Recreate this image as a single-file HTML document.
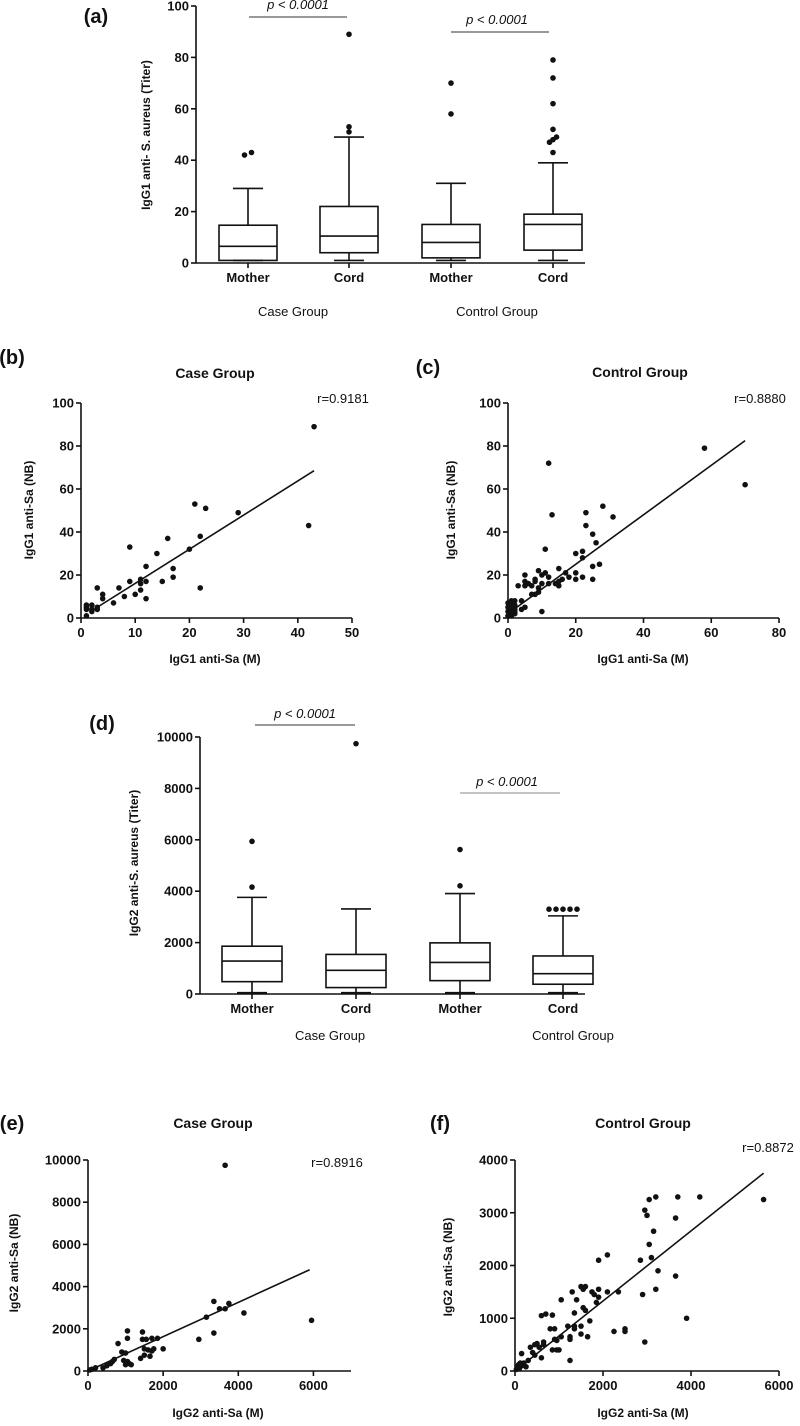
<!DOCTYPE html>
<html><head><meta charset="utf-8"><style>
html,body{margin:0;padding:0;background:#fff}
svg text{font-family:"Liberation Sans",Arial,sans-serif;fill:#111}
.t{font-weight:bold;font-size:13px}
.l{font-weight:bold;font-size:12px}
.p{font-size:20px;font-weight:bold}
.h{font-weight:bold;font-size:14px}
.n{font-weight:normal}
.i{font-style:italic;font-weight:normal;font-size:13px}
</style></head><body>
<svg id="fig" width="800" height="1421" viewBox="0 0 800 1421" xmlns="http://www.w3.org/2000/svg"></svg>
<script>
// ---- Data ----
const boxCats = ["Mother","Cord","Mother","Cord"];
// panel a: [min,q1,median,q3,max]
const aStats = [[1,1,6.5,14.7,29],[1,4,10.5,22,49],[1,2,8,15,31],[1,5,15,19,39]];
const aOutliers = [[42,43],[51,53,89],[58,70],[43,47,48,49,52,62,72,79]];
const aTicks = [0,20,40,60,80,100];
const dStats = [[50,480,1280,1860,3760],[50,250,920,1540,3310],[50,520,1230,1990,3910],[50,380,790,1480,3040]];
const dOutliers = [[4160,5940],[9740],[4210,5620],[3300,3300,3300,3300,3300]];
const dTicks = [0,2000,4000,6000,8000,10000];

const bX = [1,1,1,1,2,2,2,3,3,3,4,4,6,7,8,9,9,10,11,11,11,12,12,12,14,15,16,17,17,20,21,22,22,23,29,42,43];
const bY = [1,4,5,6,3,4,6,4,5,14,9,11,7,14,10,17,33,11,13,16,18,9,17,24,30,17,37,19,23,32,53,14,38,51,49,43,89];
const bFit = [[3,5],[43,68.5]];
const cX = [0,0,0,0,0.5,1,1,1,1,1.5,2,2,2,1,1,2,2,3,4,4,5,5,5,5,6,7,7,8,8,8,9,9,9,10,10,10,11,11,12,12,12,13,14,15,15,15,16,17,18,20,20,20,22,22,22,23,23,25,25,25,26,27,28,31,58,70];
const cY = [1,3,5,7,6,1,4,7,8,5,2,4,8,2,5,3,6,15,4,8,5,15,17,20,16,11,15,11,17,18,12,14,22,3,16,20,21,32,16,19,72,48,16,15,17,23,18,21,19,18,21,30,19,28,31,43,49,18,24,39,35,25,52,47,79,62];
const cFit = [[0,2],[70,82.5]];
const eX = [50,100,200,400,500,600,650,700,800,900,950,1000,1000,1050,1050,1050,1100,1150,1400,1450,1450,1500,1500,1550,1600,1650,1700,1700,1750,1850,2000,2950,3150,3350,3350,3500,3650,3650,3750,4150,5950];
const eY = [50,80,150,150,250,350,450,550,1300,900,500,300,850,1550,1900,450,350,300,600,1850,1500,1050,750,1500,1000,700,1550,950,1050,1550,1050,1500,2550,3300,1800,2950,2950,9750,3200,2750,2400];
const eFit = [[0,0],[5900,4800]];
const fX = [30,60,80,100,120,150,150,200,250,300,350,400,450,450,500,550,600,600,650,650,700,800,850,850,900,900,950,950,1000,1050,1050,1200,1250,1250,1250,1300,1350,1350,1350,1400,1500,1500,1500,1550,1550,1600,1600,1650,1700,1750,1800,1850,1900,1900,1900,2100,2100,2350,2250,2500,2500,2850,2900,2950,2950,3000,3050,3050,3100,3150,3200,3200,3250,3650,3650,3700,3900,4200,5650];
const fY = [30,80,120,50,150,100,330,150,80,200,450,350,300,500,520,450,250,1050,500,550,1080,800,1060,400,600,800,400,580,400,650,1350,850,200,600,650,1500,800,850,1100,1350,1600,700,850,1200,1550,1600,1150,650,950,1500,1450,1300,1400,1550,2100,1500,2200,1500,750,800,750,2100,1450,3050,550,2950,2400,3250,2150,2650,3300,1550,1900,2900,1800,3300,1000,3300,3250];
const fFit = [[0,0],[5650,3750]];

const NS="http://www.w3.org/2000/svg";
const svg=document.getElementById('fig');
function mk(tag,attrs,parent,txt){const e=document.createElementNS(NS,tag);for(const k in attrs)e.setAttribute(k,attrs[k]);if(txt!==undefined)e.textContent=txt;(parent||svg).appendChild(e);return e;}
function txt(x,y,s,cls,anchor,name,extra){const t=mk('text',Object.assign({x:x,y:y,class:cls,'text-anchor':anchor||'middle'},extra||{}),null,s);


return t;}
const LS={stroke:'#111','stroke-width':1.6,fill:'none'};

function yAxis(g,x0,y0,y1,ticks,vmax){
  mk('line',Object.assign({x1:x0,y1:y0,x2:x0,y2:y1},LS),g);
  ticks.forEach(v=>{const y=y0-(v/vmax)*(y0-y1);
    mk('line',Object.assign({x1:x0-5,y1:y,x2:x0,y2:y},LS),g);
    const t=mk('text',{x:x0-7,y:y+4.5,class:'t','text-anchor':'end'},g,String(v));
    
    
  });
}

function boxChart(name,x0,xEnd,y0,y1,vmax,ticks,cx,stats,outs,halfW){
  const g=mk('g',{});
  
  
  const Y=v=>y0-(v/vmax)*(y0-y1);
  yAxis(g,x0,y0,y1,ticks,vmax);
  mk('line',Object.assign({x1:x0,y1:y0,x2:xEnd,y2:y0},LS),g);
  stats.forEach((s,i)=>{
    const x=cx[i];
    const bg=mk('g',{},g);
    
    
    mk('line',Object.assign({x1:x,y1:y0,x2:x,y2:y0+5},LS),bg);
    mk('line',Object.assign({x1:x,y1:Y(s[0]),x2:x,y2:Y(s[1])},LS),bg);
    mk('line',Object.assign({x1:x,y1:Y(s[3]),x2:x,y2:Y(s[4])},LS),bg);
    mk('line',Object.assign({x1:x-15,y1:Y(s[0]),x2:x+15,y2:Y(s[0])},LS),bg);
    mk('line',Object.assign({x1:x-15,y1:Y(s[4]),x2:x+15,y2:Y(s[4])},LS),bg);
    mk('rect',Object.assign({x:x-halfW,y:Y(s[3]),width:2*halfW,height:Y(s[1])-Y(s[3])},LS),bg);
    mk('line',Object.assign({x1:x-halfW,y1:Y(s[2]),x2:x+halfW,y2:Y(s[2])},LS),bg);
    const o=outs[i];
    o.forEach((v,j)=>{
      const near=o.filter(w=>Math.abs(w-v)<vmax*0.012);
      const k=near.indexOf(v)+o.slice(0,j).filter(w=>w===v).length;
      const dx=near.length>1?(k-(near.length-1)/2)*7:0;
      const c=mk('circle',{cx:x+dx,cy:Y(v),r:2.8,fill:'#111'},bg);
      
      
    });
    const t=mk('text',{x:x,y:y0+19,class:'t','text-anchor':'middle'},g,boxCats[i]);
    
    
  });
  return Y;
}

function scatter(name,x0,x1,xmax,xticks,y0,y1,ymax,yticks,X,Yv,fit){
  const g=mk('g',{});
  
  
  const sx=v=>x0+(v/xmax)*(x1-x0), sy=v=>y0-(v/ymax)*(y0-y1);
  yAxis(g,x0,y0,y1,yticks,ymax);
  mk('line',Object.assign({x1:x0,y1:y0,x2:x1,y2:y0},LS),g);
  xticks.forEach(v=>{const x=sx(v);
    mk('line',Object.assign({x1:x,y1:y0,x2:x,y2:y0+5},LS),g);
    const t=mk('text',{x:x,y:y0+19,class:'t','text-anchor':'middle'},g,String(v));
    
    
  });
  X.forEach((v,i)=>{const c=mk('circle',{cx:sx(v),cy:sy(Yv[i]),r:2.8,fill:'#111'},g);
    
    });
  const l=mk('line',{x1:sx(fit[0][0]),y1:sy(fit[0][1]),x2:sx(fit[1][0]),y2:sy(fit[1][1]),stroke:'#111','stroke-width':1.6},g);
  
  
}

// Panel (a)
txt(96,23,'(a)','p','middle','panel-label-a');
boxChart('boxplot-igg1',196,585,263,6,100,aTicks,[248,349,451,553],aStats,aOutliers,29);
txt(150,135,'IgG1 anti- S. aureus  (Titer)','l','middle','y-axis-title-a',{transform:'rotate(-90 150 135)'});
mk('line',{x1:249,y1:17,x2:347,y2:17,stroke:'#333','stroke-width':1});
txt(298,9,'p < 0.0001','i','middle','p-value-a1');
mk('line',{x1:451,y1:32,x2:549,y2:32,stroke:'#333','stroke-width':1});
txt(497,24,'p < 0.0001','i','middle','p-value-a2');
txt(293,316,'Case Group','t n','middle','group-label-case');
txt(497,316,'Control Group','t n','middle','group-label-control');

// Panel (b)
txt(12,364,'(b)','p','middle','panel-label-b');
txt(215,378,'Case Group','h','middle','chart-title-b');
txt(343,403,'r=0.9181','t n','middle','r-value-b');
scatter('scatter-igg1-case',81,352,50,[0,10,20,30,40,50],618,403,100,[0,20,40,60,80,100],bX,bY,bFit);
txt(33,510,'IgG1 anti-Sa (NB)','l','middle','y-axis-title-b',{transform:'rotate(-90 33 510)'});
txt(215,663,'IgG1 anti-Sa (M)','l','middle','x-axis-title-b');

// Panel (c)
txt(428,374,'(c)','p','middle','panel-label-c');
txt(640,377,'Control Group','h','middle','chart-title-c');
txt(760,403,'r=0.8880','t n','middle','r-value-c');
scatter('scatter-igg1-control',508,779,80,[0,20,40,60,80],618,403,100,[0,20,40,60,80,100],cX,cY,cFit);
txt(455,510,'IgG1 anti-Sa (NB)','l','middle','y-axis-title-c',{transform:'rotate(-90 455 510)'});
txt(643,663,'IgG1 anti-Sa (M)','l','middle','x-axis-title-c');

// Panel (d)
txt(102,730,'(d)','p','middle','panel-label-d');
boxChart('boxplot-igg2',200,585,994,737,10000,dTicks,[252,356,460,563],dStats,dOutliers,30);
txt(138,863,'IgG2 anti-S. aureus  (Titer)','l','middle','y-axis-title-d',{transform:'rotate(-90 138 863)'});
mk('line',{x1:255,y1:725,x2:355,y2:725,stroke:'#333','stroke-width':1});
txt(305,718,'p < 0.0001','i','middle','p-value-d1');
mk('line',{x1:460,y1:793,x2:560,y2:793,stroke:'#888','stroke-width':1});
txt(507,786,'p < 0.0001','i','middle','p-value-d2');
txt(330,1040,'Case Group','t n','middle','group-label-case-d');
txt(573,1040,'Control Group','t n','middle','group-label-control-d');

// Panel (e)
txt(12,1130,'(e)','p','middle','panel-label-e');
txt(213,1128,'Case Group','h','middle','chart-title-e');
txt(337,1167,'r=0.8916','t n','middle','r-value-e');
scatter('scatter-igg2-case',88,351,7000,[0,2000,4000,6000],1371,1160,10000,[0,2000,4000,6000,8000,10000],eX,eY,eFit);
txt(18,1263,'IgG2 anti-Sa (NB)','l','middle','y-axis-title-e',{transform:'rotate(-90 18 1263)'});
txt(218,1417,'IgG2 anti-Sa (M)','l','middle','x-axis-title-e');

// Panel (f)
txt(440,1130,'(f)','p','middle','panel-label-f');
txt(643,1128,'Control Group','h','middle','chart-title-f');
txt(768,1152,'r=0.8872','t n','middle','r-value-f');
scatter('scatter-igg2-control',515,779,6000,[0,2000,4000,6000],1371,1160,4000,[0,1000,2000,3000,4000],fX,fY,fFit);
txt(452,1267,'IgG2 anti-Sa (NB)','l','middle','y-axis-title-f',{transform:'rotate(-90 452 1267)'});
txt(643,1417,'IgG2 anti-Sa (M)','l','middle','x-axis-title-f');
</script>
</body></html>
